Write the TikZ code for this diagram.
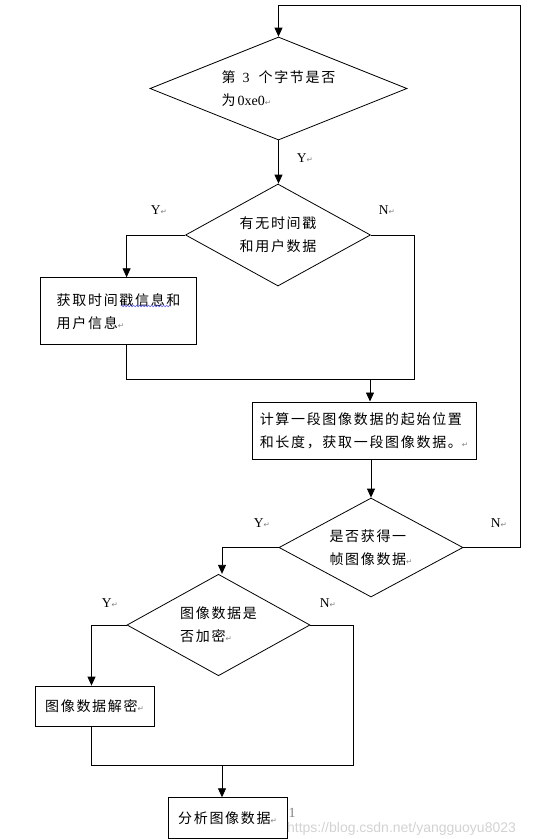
\documentclass[tikz,border=0pt]{standalone}
\usepackage{fontspec}
\setmainfont{Liberation Serif}
\newfontfamily\cjk[LetterSpace=12]{Noto Sans CJK SC}
\newfontfamily\symfont{DejaVu Sans}
\newfontfamily\wmfont{Liberation Sans}
\usetikzlibrary{shapes.geometric,arrows.meta,decorations.pathmorphing}
\newcommand{\ret}{{\symfont\fontsize{7.5}{7.5}\selectfont\color{gray}↵}}

\begin{document}
\begin{tikzpicture}[x=1pt,y=-1pt, line width=0.8pt,
    decision/.style={diamond, draw, inner sep=0pt, align=left, aspect=1.8,
        font=\cjk\fontsize{14}{23}\selectfont},
    process/.style={rectangle, draw, inner sep=0pt, align=left,
        font=\cjk\fontsize{14}{23}\selectfont},
    arr/.style={-{Triangle[length=9pt,width=8pt]}},
    yn/.style={font=\fontsize{13.5}{13.5}\selectfont}]
    \useasboundingbox (0,0) rectangle (541,839);

    % Decisions and steps
    \node[decision, minimum width=257, minimum height=103, aspect=2.5] (byte3) at (278.5,88.5)
        {第\hspace{7pt}{\rmfamily 3}\hspace{9pt}个字节是否\\为\hspace{2pt}{\rmfamily 0xe0}\ret};
    \node[decision, minimum width=185, minimum height=102] (stamp) at (278,235) {有无时间戳\\和用户数据};
    \node[process, minimum width=156, minimum height=67] (getinfo) at (118.6,311.2) {获取时间戳信息和\\用户信息\ret};
    \node[process, minimum width=224, minimum height=57] (segment) at (364,430.4)
        {计算一段图像数据的起始位置\\和长度，获取一段图像数据。\ret};
    \node[decision, minimum width=184, minimum height=99] (frame) at (371,547.5) {是否获得一\\帧图像数据\ret};
    \node[decision, minimum width=183, minimum height=101.5] (crypt) at (218.5,625) {图像数据是\\否加密\ret};
    \node[process, minimum width=119, minimum height=40] (decrypt) at (94.5,706) {图像数据解密\ret};
    \node[process, minimum width=119, minimum height=40.6] (analyse) at (227.5,818) {分析图像数据\ret};

    % Branch labels
    \node[yn] (y1) at (305,158) {Y\ret};
    \node[yn] (y2) at (159,210) {Y\ret};
    \node[yn] (n2) at (387,210) {N\ret};
    \node[yn] (y3) at (262,523) {Y\ret};
    \node[yn] (n3) at (499,523) {N\ret};
    \node[yn] (y4) at (110,603) {Y\ret};
    \node[yn] (n4) at (328,603) {N\ret};

    % Bends and joins
    \coordinate (looptop) at (520,5);
    \coordinate (bend1) at (414,379);
    \coordinate (join1) at (370,379);
    \coordinate (bend2) at (353,765);
    \coordinate (join2) at (222,765);

    % Connectors
    \draw[arr] (frame.east) -| (looptop) -| (byte3.north);
    \draw[arr] (byte3.south) -- (byte3.south |- stamp.north);
    \draw[arr] (stamp.west) -| ([xshift=8]getinfo.north);
    \draw (stamp.east) -| (bend1) -| ([xshift=8]getinfo.south);
    \draw[arr] (join1) -- (join1 |- segment.north);
    \draw[arr] (frame.north |- segment.south) -- (frame.north);
    \draw[arr] (frame.west) -| ([xshift=3.5]crypt.north);
    \draw[arr] (crypt.west) -| ([xshift=-3]decrypt.north);
    \draw (crypt.east) -| (bend2) -| ([xshift=-3]decrypt.south);
    \draw[arr] (join2) -- (join2 |- analyse.north);

    % Spell-check mark and page leftovers
    \draw[blue!70, line width=0.5pt, decorate, decoration={snake, amplitude=0.8pt, segment length=3pt}]
        (120.7,306) -- (170.7,306);
    \node[font=\fontsize{14}{14}\selectfont, text=gray] (pagenum) at (292,813) {1};
    \node[font=\wmfont\fontsize{14}{14}\selectfont, text=gray!35] (mark) at (401.5,829) {https://blog.csdn.net/yangguoyu8023};
\end{tikzpicture}
\end{document}
